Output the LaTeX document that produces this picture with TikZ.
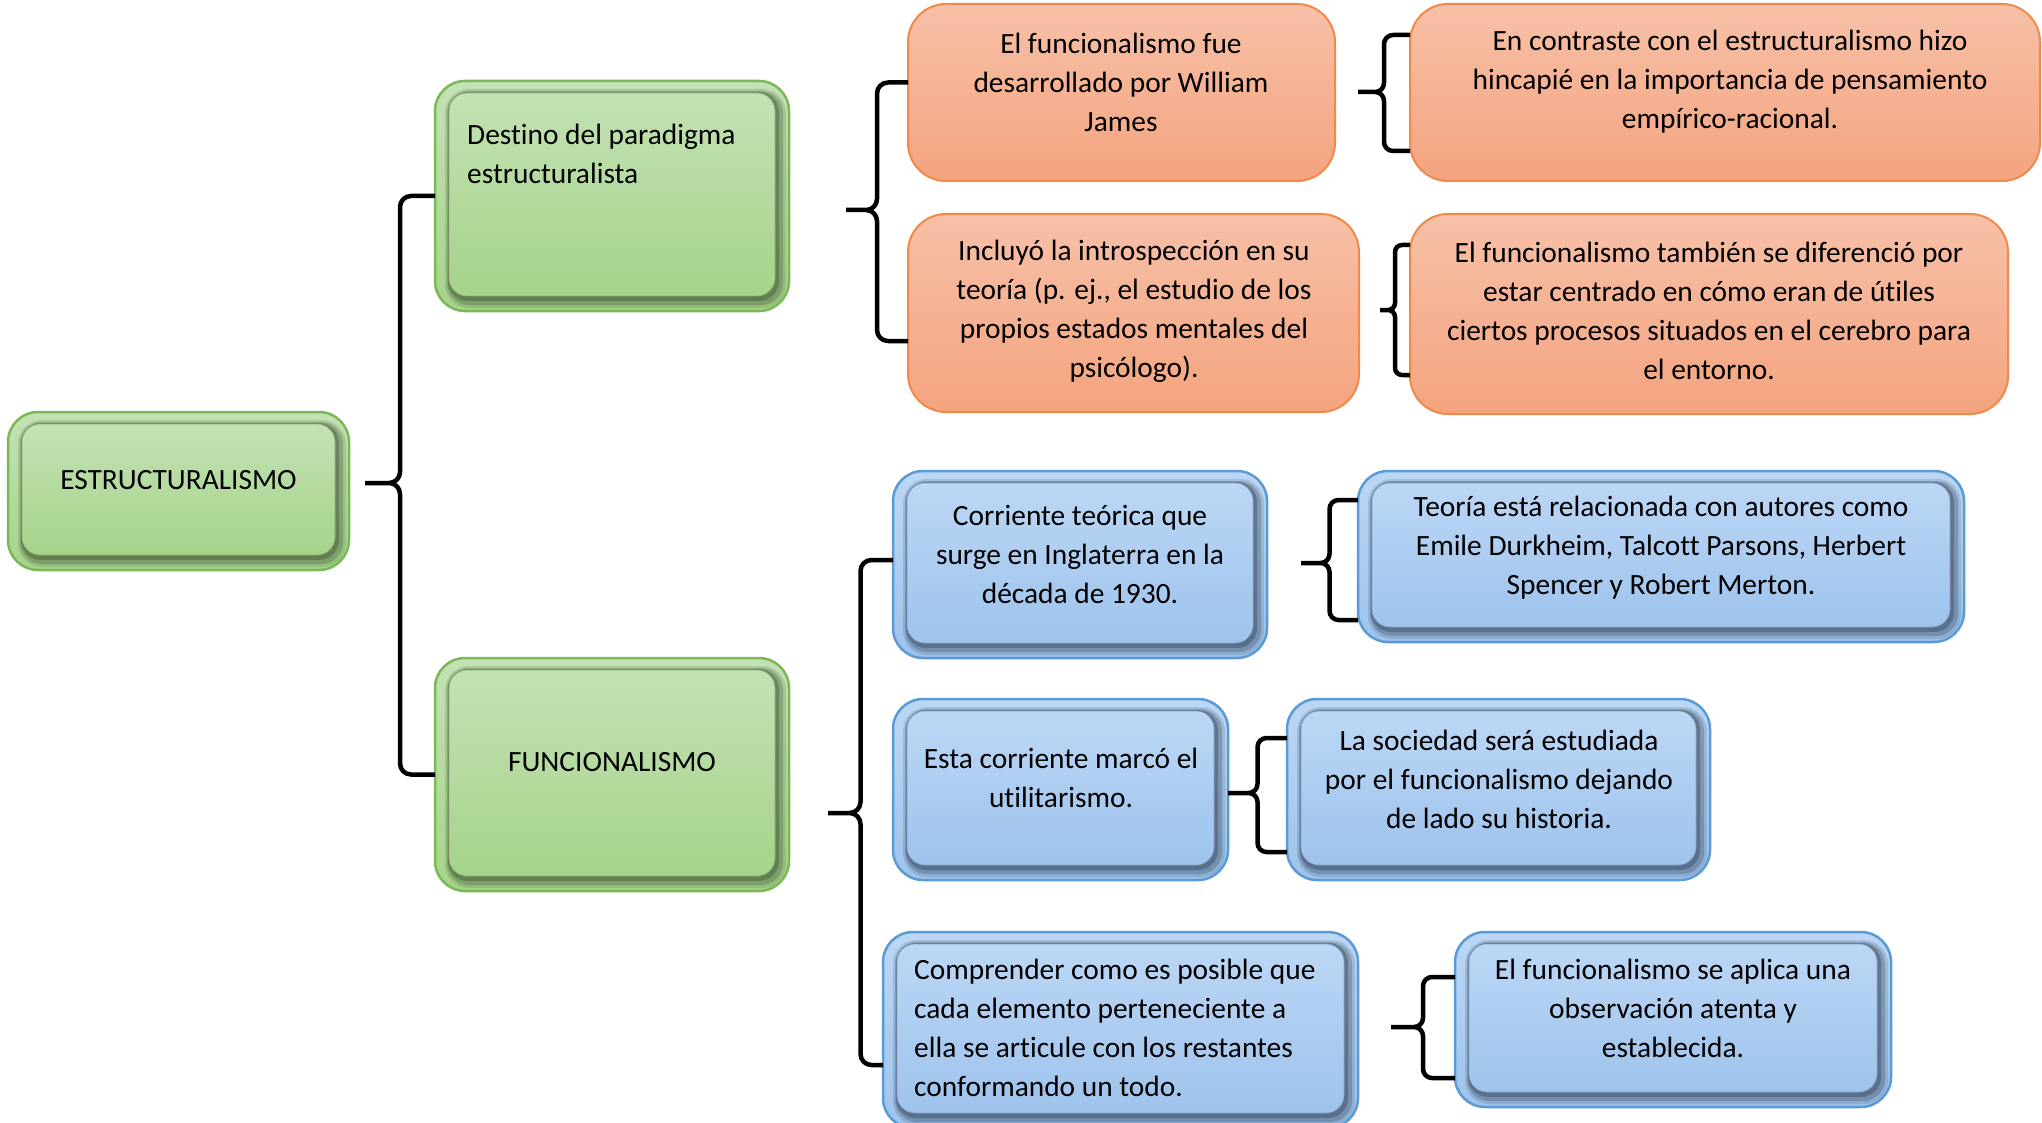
\documentclass[tikz,border=0pt]{standalone}
\usepackage{fontspec}
\setmainfont{Carlito}[Ligatures=NoCommon]
\usetikzlibrary{calc}

\definecolor{gBorder}{HTML}{7AB957}
\definecolor{gTop}{HTML}{C3E2B4}
\definecolor{gBot}{HTML}{A6D38A}
\definecolor{gDark}{HTML}{34462A}
\definecolor{bBorder}{HTML}{5B9BD5}
\definecolor{bTop}{HTML}{BCD7F5}
\definecolor{bBot}{HTML}{9EC3EC}
\definecolor{bDark}{HTML}{2A3648}
\definecolor{oBorder}{HTML}{F0894A}
\definecolor{oTop}{HTML}{F7C0A7}
\definecolor{oBot}{HTML}{F4A47F}

\tikzset{
  shapebox/.style={rectangle, inner sep=0pt, outer sep=0pt},
  greenbox/.style={shapebox, rounded corners=30pt, top color=gTop, bottom color=gBot, draw=gBorder, line width=2.5pt},
  bluebox/.style={shapebox, rounded corners=30pt, top color=bTop, bottom color=bBot, draw=bBorder, line width=2.5pt},
  orangebox/.style={shapebox, rounded corners=38pt, top color=oTop, bottom color=oBot, draw=oBorder, line width=2pt},
  txt/.style={font=\fontsize{29.4}{39}\selectfont, align=center, inner sep=0pt},
  txtl/.style={txt, align=left},
  brc/.style={line width=4.5pt, line join=round, draw=black}
}

\newcommand\bevelbox[4]{% name, top, bottom, dark
  \fill[#4, opacity=.16, rounded corners=24pt] ([shift={(10,8)}]#1.north west) rectangle ([shift={(-3,-3)}]#1.south east);
  \fill[#4, opacity=.25, rounded corners=22pt] ([shift={(12,10)}]#1.north west) rectangle ([shift={(-6,-6)}]#1.south east);
  \fill[#4, opacity=.35, rounded corners=20pt] ([shift={(13,11)}]#1.north west) rectangle ([shift={(-10,-10)}]#1.south east);
  \path[rounded corners=18pt, top color=#2, bottom color=#3, draw=#3!85!black, line width=.6pt] ([shift={(14,12)}]#1.north west) rectangle ([shift={(-14,-15)}]#1.south east);
}

\newcommand\curlybr[4]{% top end, tip, bottom end, radius
  \draw[brc] let \p1=(#1), \p2=(#2), \p3=(#3), \n1={(\x1+\x2)/2} in
    (\p1) -- ({\n1+#4},\y1) to[out=180,in=90] ({\n1},{\y1-#4}) -- ({\n1},{\y2+#4})
    to[out=-90,in=0] ({\n1-#4},\y2) -- (\p2)
    (\p2) -- ({\n1-#4},\y2) to[out=0,in=90] ({\n1},{\y2-#4}) -- ({\n1},{\y3+#4})
    to[out=-90,in=180] ({\n1+#4},\y3) -- (\p3);
}

\begin{document}
\begin{tikzpicture}[x=1pt, y=-1pt]
\useasboundingbox (0,0) rectangle (2042,1123);

% boxes
\node[greenbox, minimum width=341pt, minimum height=158pt] (est) at (178.5,491) {};
\node[greenbox, minimum width=354pt, minimum height=230pt] (dest) at (612,196) {};
\node[greenbox, minimum width=354pt, minimum height=233pt] (func) at (612,774.5) {};

\node[orangebox, minimum width=427pt, minimum height=177pt] (o1) at (1121.5,92.5) {};
\node[orangebox, minimum width=451pt, minimum height=198pt] (o2) at (1133.5,313) {};
\node[orangebox, minimum width=630pt, minimum height=177pt] (o3) at (1725,92.5) {};
\node[orangebox, minimum width=598pt, minimum height=200pt] (o4) at (1709,314) {};

\node[bluebox, minimum width=374pt, minimum height=187pt] (b1) at (1080,564.5) {};
\node[bluebox, minimum width=606pt, minimum height=171pt] (b2) at (1661,556.5) {};
\node[bluebox, minimum width=335pt, minimum height=181pt] (b3) at (1060.5,789.5) {};
\node[bluebox, minimum width=423pt, minimum height=181pt] (b4) at (1498.5,789.5) {};
\node[bluebox, minimum width=475pt, minimum height=196pt] (b5) at (1120.5,1030) {};
\node[bluebox, minimum width=436pt, minimum height=175pt] (b6) at (1673,1019.5) {};

\bevelbox{est}{gTop}{gBot}{gDark}
\bevelbox{dest}{gTop}{gBot}{gDark}
\bevelbox{func}{gTop}{gBot}{gDark}
\bevelbox{b1}{bTop}{bBot}{bDark}
\bevelbox{b2}{bTop}{bBot}{bDark}
\bevelbox{b3}{bTop}{bBot}{bDark}
\bevelbox{b4}{bTop}{bBot}{bDark}
\bevelbox{b5}{bTop}{bBot}{bDark}
\bevelbox{b6}{bTop}{bBot}{bDark}

% brace tips
\coordinate (tA) at (365,483);
\coordinate (tB) at (846,210);
\coordinate (tC) at (1358,92);
\coordinate (tD) at (1380,310);
\coordinate (tE) at (828,813);
\coordinate (tF) at (1301,563);
\coordinate (tG) at (1228,793);
\coordinate (tH) at (1391,1027);

% braces
\curlybr{dest.west}{tA}{func.west}{11}
\curlybr{[yshift=10pt]o1.west}{tB}{[yshift=-28pt]o2.west}{11}
\curlybr{[yshift=57.5pt]o3.west}{tC}{[yshift=-58.5pt]o3.west}{9}
\curlybr{[yshift=69pt]o4.west}{tD}{[yshift=-61pt]o4.west}{7}
\curlybr{[yshift=4.5pt]b1.west}{tE}{[yshift=-35pt]b5.west}{11}
\curlybr{[yshift=56.5pt]b2.west}{tF}{[yshift=-63.5pt]b2.west}{9}
\curlybr{[yshift=51.5pt]b4.west}{tG}{[yshift=-62.5pt]b4.west}{9}
\curlybr{[yshift=42.5pt]b6.west}{tH}{[yshift=-58.5pt]b6.west}{9}

% texts
\node[txt] (estT) at (178.5,480) {ESTRUCTURALISMO};
\node[txtl, anchor=west] (destT) at (467,153.5) {Destino del paradigma\\estructuralista};
\node[txt] (funcT) at (612,762) {FUNCIONALISMO};

\node[txt] (o1T) at (1121,82) {El funcionalismo fue\\desarrollado por William\\James};
\node[txt] (o2T) at (1134,311) {Incluyó la introspección en su\\teoría (p. ej., el estudio de los\\propios estados mentales del\\psicólogo).};
\node[txt] (o3T) at (1730,82) {En contraste con el estructuralismo hizo\\hincapié en la importancia de pensamiento\\empírico-racional.};
\node[txt] (o4T) at (1709,311) {El funcionalismo también se diferenció por\\estar centrado en cómo eran de útiles\\ciertos procesos situados en el cerebro para\\el entorno.};

\node[txt] (b1T) at (1080,554) {Corriente teórica que\\surge en Inglaterra en la\\década de 1930.};
\node[txt] (b2T) at (1661,548) {Teoría está relacionada con autores como\\Emile Durkheim, Talcott Parsons, Herbert\\Spencer y Robert Merton.};
\node[txt] (b3T) at (1061,778) {Esta corriente marcó el\\utilitarismo.};
\node[txt] (b4T) at (1499,779) {La sociedad será estudiada\\por el funcionalismo dejando\\de lado su historia.};
\node[txtl, anchor=west] (b5T) at (914,1028) {Comprender como es posible que\\cada elemento perteneciente a\\ella se articule con los restantes\\conformando un todo.};
\node[txt] (b6T) at (1673,1008) {El funcionalismo se aplica una\\observación atenta y\\establecida.};
\end{tikzpicture}
\end{document}
